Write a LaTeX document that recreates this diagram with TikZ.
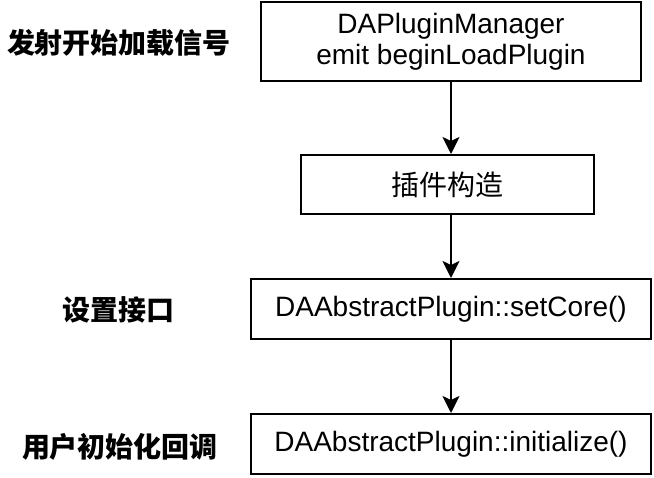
\documentclass[tikz,border=0pt]{standalone}
\usepackage{fontspec}
\setmainfont{Liberation Sans}
\newfontfamily\cjk{Noto Sans CJK SC}
\usetikzlibrary{arrows.meta}
\begin{document}
\begin{tikzpicture}[x=1pt,y=-1pt,
  box/.style={draw, line width=2pt, inner sep=0pt, align=center, font=\fontsize{28}{31}\selectfont},
  lab/.style={font=\cjk\bfseries\fontsize{28}{30}\selectfont},
  arr/.style={line width=2pt, -{Stealth[length=17pt,width=17pt,inset=4pt]}}]
\useasboundingbox (0,0) rectangle (654,478);
\node[box, minimum width=380pt, minimum height=79pt] (a) at (451,41.5) {DAPluginManager\\emit beginLoadPlugin};
\node[box, minimum width=293pt, minimum height=59pt] (b) at (447.5,184.5) {\cjk 插件构造};
\node[box, minimum width=400pt, minimum height=60pt] (c) at (451,309) {DAAbstractPlugin::setCore()};
\node[box, minimum width=400pt, minimum height=60pt] (d) at (451,444) {DAAbstractPlugin::initialize()};
\draw[arr] (a.south) -- (a.south |- b.north);
\draw[arr] (a.south |- b.south) -- (c.north);
\draw[arr] (c.south) -- (d.north);
\node[lab] (l1) at (119,43) {发射开始加载信号};
\node[lab] (l2) at (118.5,310) {设置接口};
\node[lab] (l3) at (120,447) {用户初始化回调};
\end{tikzpicture}
\end{document}
